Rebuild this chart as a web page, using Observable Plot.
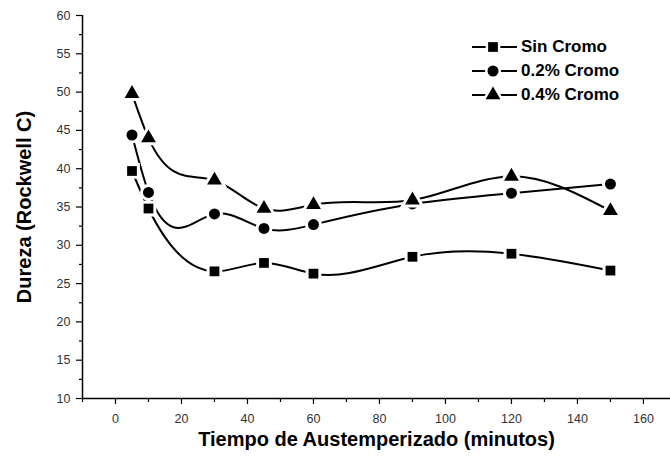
<!DOCTYPE html>
<html>
<head>
<meta charset="utf-8">
<script src="https://cdn.jsdelivr.net/npm/d3@7"></script>
<script src="https://cdn.jsdelivr.net/npm/@observablehq/plot@0.6"></script>
<style>
  html, body { margin: 0; padding: 0; background: white; }
  #wrap { position: relative; width: 670px; height: 458px; font-family: "Liberation Sans", Arial, sans-serif; }
  #legend { position: absolute; left: 471px; top: 35px; }
  .row { display: flex; align-items: center; height: 24px; }
  .row span { font-weight: bold; font-size: 17px; color: #000; margin-left: 3px; }
</style>
</head>
<body>
<div id="wrap"><div id="legend"></div></div>
<script>
// Data
const tiempo = [5, 10, 30, 45, 60, 90, 120, 150];
const sinCromo = [39.7, 34.8, 26.6, 27.7, 26.3, 28.5, 28.9, 26.7];
const cromo02 = [44.4, 36.9, 34.1, 32.2, 32.7, 35.4, 36.8, 38.0];
const cromo04 = [49.8, 44.0, 38.5, 34.8, 35.3, 35.9, 39.0, 34.5];
const seriesNames = ["Sin Cromo", "0.2% Cromo", "0.4% Cromo"];
const seriesSymbols = ["square", "circle", "triangle"];
const xMajorTicks = [0, 20, 40, 60, 80, 100, 120, 140, 160];
const xMinorTicks = [-10, 10, 30, 50, 70, 90, 110, 130, 150];
const yMajorTicks = [10, 15, 20, 25, 30, 35, 40, 45, 50, 55, 60];
const yMinorTicks = [12.5, 17.5, 22.5, 27.5, 32.5, 37.5, 42.5, 47.5, 52.5, 57.5];
const xTitle = "Tiempo de Austemperizado (minutos)";
const yTitle = "Dureza (Rockwell C)";

const seriesValues = [sinCromo, cromo02, cromo04];
const rows = [];
seriesValues.forEach((vals, i) => vals.forEach((v, j) => rows.push({t: tiempo[j], v, serie: seriesNames[i]})));

// Custom d3 curve: natural cubic spline y(x) (like Origin's "Spline" connection)
function SplineX(context) { this._context = context; }
SplineX.prototype = {
  areaStart() { this._line = 0; },
  areaEnd() { this._line = NaN; },
  lineStart() { this._X = []; this._Y = []; },
  point(x, y) { this._X.push(+x); this._Y.push(+y); },
  lineEnd() {
    const X = this._X, Y = this._Y, n = X.length, ctx = this._context;
    if (n) {
      if (this._line) ctx.lineTo(X[0], Y[0]); else ctx.moveTo(X[0], Y[0]);
      if (n === 2) ctx.lineTo(X[1], Y[1]);
      else if (n > 2) {
        const h = [];
        for (let i = 0; i < n - 1; i++) h.push(X[i + 1] - X[i]);
        const a = [], b = [], c = [], d = [];
        for (let i = 1; i < n - 1; i++) {
          a.push(h[i - 1]); b.push(2 * (h[i - 1] + h[i])); c.push(h[i]);
          d.push(6 * ((Y[i + 1] - Y[i]) / h[i] - (Y[i] - Y[i - 1]) / h[i - 1]));
        }
        const m = a.length;
        for (let i = 1; i < m; i++) { const w = a[i] / b[i - 1]; b[i] -= w * c[i - 1]; d[i] -= w * d[i - 1]; }
        const sol = new Array(m);
        sol[m - 1] = d[m - 1] / b[m - 1];
        for (let i = m - 2; i >= 0; i--) sol[i] = (d[i] - c[i] * sol[i + 1]) / b[i];
        const M = new Array(n).fill(0);
        for (let i = 0; i < m; i++) M[i + 1] = sol[i];
        for (let i = 0; i < n - 1; i++) {
          const s = (Y[i + 1] - Y[i]) / h[i];
          const m0 = s - h[i] * (2 * M[i] + M[i + 1]) / 6;
          const m1 = s + h[i] * (M[i] + 2 * M[i + 1]) / 6;
          ctx.bezierCurveTo(X[i] + h[i] / 3, Y[i] + m0 * h[i] / 3, X[i + 1] - h[i] / 3, Y[i + 1] - m1 * h[i] / 3, X[i + 1], Y[i + 1]);
        }
      }
    }
    if (this._line || (this._line !== 0 && n === 1)) ctx.closePath();
    this._line = 1 - this._line;
  }
};
const curveSplineX = (context) => new SplineX(context);

const font = "Liberation Sans, Arial, sans-serif";
const chart = Plot.plot({
  width: 670, height: 458,
  marginLeft: 82, marginRight: 0, marginTop: 15, marginBottom: 60,
  style: {fontFamily: font, background: "white", overflow: "visible"},
  x: {domain: [-10, 168.2]},
  y: {domain: [10, 60]},
  symbol: {domain: seriesNames, range: seriesSymbols},
  marks: [
    Plot.axisX({ticks: xMajorTicks, tickSize: 6, tickPadding: 10, fontSize: 12.5, fill: "#333", stroke: "black", strokeWidth: 1.2, label: null}),
    Plot.axisX({ticks: xMinorTicks, tickSize: 4, tickFormat: () => "", stroke: "black", strokeWidth: 1.2, label: null}),
    Plot.axisY({ticks: yMajorTicks, tickSize: 6, tickPadding: 6, fontSize: 12.5, fill: "#333", stroke: "black", strokeWidth: 1.2, label: null}),
    Plot.axisY({ticks: yMinorTicks, tickSize: 3, tickFormat: () => "", stroke: "black", strokeWidth: 1.2, label: null}),
    Plot.ruleX([-10], {stroke: "black", strokeWidth: 1.5}),
    Plot.ruleY([10], {stroke: "black", strokeWidth: 1.5}),
    Plot.line(rows, {x: "t", y: "v", z: "serie", curve: curveSplineX, stroke: "black", strokeWidth: 2}),
    Plot.dot(rows, {x: "t", y: "v", symbol: "serie", fill: "black", stroke: "white", strokeWidth: 6, paintOrder: "stroke", r: 5.5}),
    Plot.text([xTitle], {frameAnchor: "bottom", dy: 47, fontSize: 20, fontWeight: "bold", fill: "black"}),
    Plot.text([yTitle], {frameAnchor: "left", textAnchor: "middle", dx: -58, rotate: -90, fontSize: 20, fontWeight: "bold", fill: "black"})
  ]
});
document.getElementById("wrap").prepend(chart);

// Legend
const legend = d3.select("#legend");
const symGen = d3.symbol().size(95);
const symMap = {square: d3.symbolSquare, circle: d3.symbolCircle, triangle: d3.symbolTriangle};
seriesNames.forEach((name, i) => {
  const row = legend.append("div").attr("class", "row");
  const svg = row.append("svg").attr("width", 47).attr("height", 24);
  svg.append("line").attr("x1", 1).attr("x2", 46).attr("y1", 12).attr("y2", 12).attr("stroke", "black").attr("stroke-width", 2);
  svg.append("path").attr("transform", "translate(22,12)")
    .attr("d", symGen.type(symMap[seriesSymbols[i]])())
    .attr("fill", "black").attr("stroke", "white").attr("stroke-width", 5).attr("paint-order", "stroke");
  row.append("span").text(name);
});
</script>
</body>
</html>
